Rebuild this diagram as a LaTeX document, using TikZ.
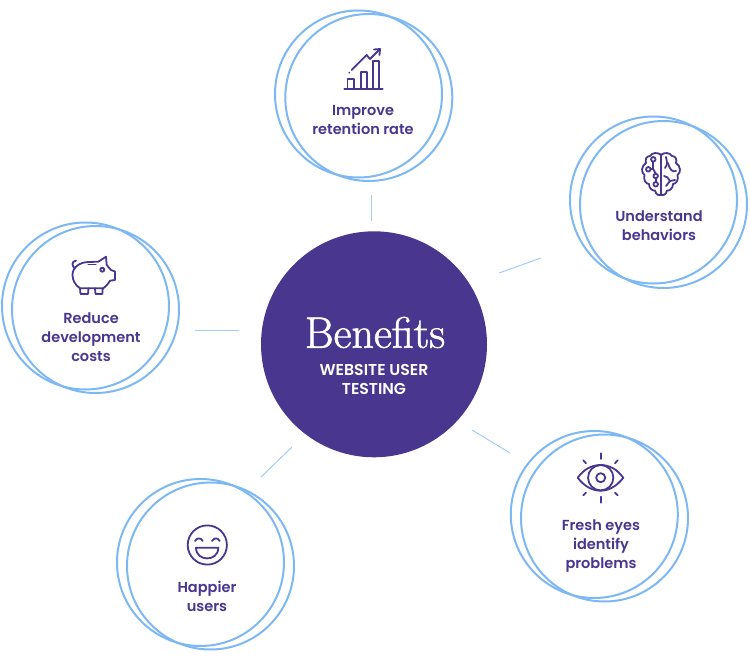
\documentclass[tikz,border=0pt]{standalone}
\usepackage{fontspec}
\newfontfamily\labelfont{Poppins SemiBold}
\newfontfamily\subfont{Poppins SemiBold}
\newfontfamily\titlefont{Latin Modern Roman}[FakeBold=1.3]
\definecolor{hubpurple}{HTML}{48368F}
\definecolor{ringblue}{HTML}{7DB8F5}
\definecolor{linkblue}{HTML}{A3CDF7}
\begin{document}
\begin{tikzpicture}[
  x=0.75pt, y=-0.75pt,
  ring/.style={draw=ringblue, circle, line width=1.5pt, minimum size=125.25pt, inner sep=0pt, outer sep=0pt},
  hub/.style={fill=hubpurple, circle, minimum size=169.5pt, inner sep=0pt, outer sep=0pt},
  lbl/.style={font=\labelfont\fontsize{10.9}{14.25}\selectfont, text=hubpurple, align=center, inner sep=0pt},
  sub/.style={font=\subfont\fontsize{11.8}{14.25}\selectfont, text=white, align=center, inner sep=0pt},
  title/.style={font=\titlefont\fontsize{33}{33}\selectfont, text=white, inner sep=0pt},
  link/.style={draw=linkblue, line width=0.75pt},
  icon/.style={draw=hubpurple, line width=1.35pt, line join=round, line cap=round},
]
  \useasboundingbox (0,0) rectangle (750,660);

  % --- Centre ---
  \node[hub] (hubdisc) at (374,344.3) {};
  \node[title] (hubtitle) at (375,332.5) {Benefits};
  \node[sub] (hubsub) at (374,379.5) {WEBSITE USER\\TESTING};

  % --- Rings, back and front ---
  \node[ring] (improveback) at (358.5,94) {};
  \node[ring] (improvefront) at (368.8,97.5) {};
  \node[ring] (understandback) at (653.5,200) {};
  \node[ring] (understandfront) at (663.5,204.5) {};
  \node[ring] (reduceback) at (85.5,306) {};
  \node[ring] (reducefront) at (95.5,309.5) {};
  \node[ring] (freshback) at (594.3,514.5) {};
  \node[ring] (freshfront) at (604.5,518) {};
  \node[ring] (happierback) at (200.5,562.5) {};
  \node[ring] (happierfront) at (210.5,566) {};

  % --- Labels ---
  \node[lbl] (improvelbl) at (363,120) {Improve\\retention rate};
  \node[lbl] (understandlbl) at (659,225.5) {Understand\\behaviors};
  \node[lbl] (reducelbl) at (91,337) {Reduce\\development\\costs};
  \node[lbl] (freshlbl) at (601,545.8) {Fresh eyes\\identify\\problems};
  \node[lbl] (happierlbl) at (207,596.5) {Happier\\users};

  % --- Links ---
  \coordinate (topa) at (371,195);
  \coordinate (topb) at (371,221);
  \coordinate (righta) at (499,273);
  \coordinate (rightb) at (541,258);
  \coordinate (lefta) at (195,330);
  \coordinate (leftb) at (239,330);
  \coordinate (lowla) at (261,477);
  \coordinate (lowlb) at (292,447);
  \coordinate (lowra) at (472,430);
  \coordinate (lowrb) at (510,453);
  \draw[link] (topa) -- (topb);
  \draw[link] (righta) -- (rightb);
  \draw[link] (lefta) -- (leftb);
  \draw[link] (lowla) -- (lowlb);
  \draw[link] (lowra) -- (lowrb);

  % --- Chart icon ---
  \draw[icon] (344.3,89) -- (382.7,89);
  \draw[icon] (347.5,89) -- (347.5,79.3) -- (354,79.3) -- (354,89);
  \draw[icon] (360.7,89) -- (360.7,72.3) -- (366.7,72.3) -- (366.7,89);
  \draw[icon] (373.3,89) -- (373.3,60.7) -- (379.3,60.7) -- (379.3,89);
  \draw[icon] (351.7,70) -- (366.7,55) -- (370,59) -- (380,49);
  \draw[icon] (374,49.5) -- (380,49) -- (379.5,55);
  \fill[hubpurple] (349.3,72.7) circle (0.7pt);

  % --- Brain icon ---
  \begin{scope}[shift={(661,175)}]
    \draw[icon] (0,-21) -- (0,20);
    \draw[icon] (0,-20) .. controls (-3,-23) and (-9,-22.5) .. (-11,-19)
      .. controls (-15,-19) and (-16,-15) .. (-15,-12)
      .. controls (-20,-9) and (-20,-2) .. (-16.5,0)
      .. controls (-18,5) and (-15,9) .. (-12,9)
      .. controls (-12,14) and (-8,16) .. (-6,15.5)
      .. controls (-5,20) and (-2,21) .. (0,20);
    \draw[icon] (0,-20) .. controls (3,-23) and (9,-22.5) .. (11,-19)
      .. controls (15,-19) and (16,-15) .. (15,-12)
      .. controls (20,-9) and (20,-2) .. (16.5,0)
      .. controls (18,5) and (15,9) .. (12,9)
      .. controls (12,14) and (8,16) .. (6,15.5)
      .. controls (5,20) and (2,21) .. (0,20);
    \draw[icon] (-7.7,-13.2) -- (-7.7,-5.7) -- (-10.2,-5.7);
    \draw[icon] (-7.7,-5.7) -- (-5.3,-1.5);
    \draw[icon] (-5.3,3.5) -- (-5.3,7);
    \draw[icon] (-7.7,-15.7) circle (1.7pt);
    \draw[icon] (-12.7,-5.7) circle (1.7pt);
    \draw[icon] (-5.3,1) circle (1.7pt);
    \draw[icon] (-5.3,9.3) circle (1.7pt);
    \draw[icon] (5,-18) .. controls (6,-13) and (7,-11) .. (4,-7);
    \draw[icon] (7,-12) .. controls (9,-4) and (12,-3) .. (15,-4);
    \draw[icon] (3,1) .. controls (5,1) and (8,3) .. (9,6);
    \draw[icon] (9,6) -- (5,11);
    \draw[icon] (9,6) -- (14,5);
  \end{scope}

  % --- Piggy icon ---
  \draw[icon] (80,288.3) .. controls (75,285) and (72.5,280) .. (72.5,275)
    .. controls (72.5,267) and (80,262) .. (89,262) -- (98.3,261.7)
    -- (106,256.7) -- (106.7,265) -- (111,270) -- (115,271.5) -- (115,280) -- (110,280.7)
    .. controls (108,284) and (106,286.5) .. (103.3,288.3) -- cycle;
  \draw[icon] (80,288.3) -- (80.5,294) -- (88,294) -- (88.5,288.3);
  \draw[icon] (95,288.3) -- (95.5,294) -- (102.3,294) -- (102.7,288.3);
  \draw[icon] (88.3,264.4) -- (95.7,264.4);
  \draw[icon] (102.3,269.7) circle (1.5pt);
  \draw[icon] (75,268.5) .. controls (71.5,266) and (71.5,261) .. (76,260.7);

  % --- Eye icon ---
  \draw[icon] (577.7,477.7) .. controls (584,469) and (592,465) .. (600.7,465)
    .. controls (609,465) and (617,469) .. (623.3,477.7)
    .. controls (617,486) and (609,490.7) .. (600.7,490.7)
    .. controls (592,490.7) and (584,486) .. (577.7,477.7) -- cycle;
  \draw[icon] (600.7,477.7) circle (9.5pt);
  \draw[icon] (600.7,477.7) circle (3.4pt);
  \draw[icon] (600.7,453.3) -- (600.7,459);
  \draw[icon] (600.7,496.7) -- (600.7,502.7);
  \draw[icon] (583.3,460.3) -- (586,463.3);
  \draw[icon] (617.7,460.3) -- (615,463.3);
  \draw[icon] (586,492.7) -- (583.3,495.3);
  \draw[icon] (615,492.7) -- (617.7,495.3);

  % --- Smile icon ---
  \draw[icon] (207.3,545) circle (14.7pt);
  \draw[icon] (195,541) .. controls (197,537.5) and (201,537.5) .. (202.7,541);
  \draw[icon] (212,541) .. controls (214,537.5) and (218,537.5) .. (219.7,541);
  \draw[icon] (196,547.7) -- (218.3,547.7) .. controls (218.3,562) and (196,562) .. (196,547.7) -- cycle;
\end{tikzpicture}
\end{document}
